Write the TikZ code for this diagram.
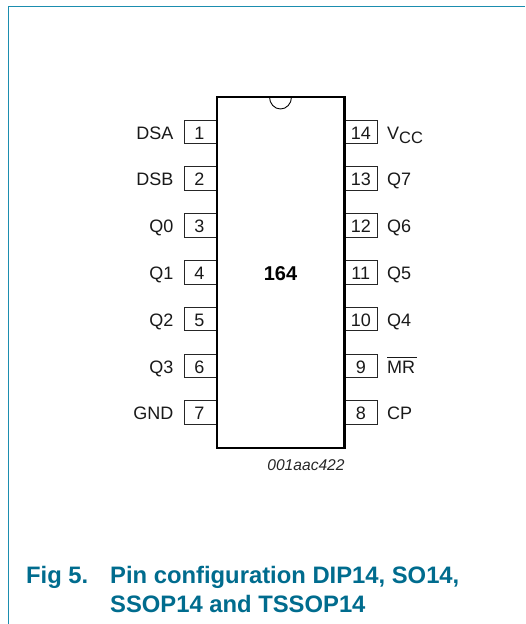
\documentclass[tikz,border=0pt]{standalone}
\usepackage{fontspec}
\setmainfont{Liberation Sans}
\definecolor{framec}{HTML}{1B8DAF}
\definecolor{titlec}{HTML}{006C8E}
\tikzset{
  x=1pt,y=-1pt,
  chip/.style={draw=black,line width=2.2pt,fill=white,minimum width=127.5pt,minimum height=351pt,inner sep=0pt},
  pinbox/.style={draw=black!85,line width=0.9pt,fill=white,minimum width=32.5pt,minimum height=23.5pt,inner sep=0pt},
  pinnum/.style={inner sep=0pt,anchor=base,font=\fontsize{18}{18}\selectfont,text=black!90},
  pinlabel/.style={inner sep=0pt,font=\fontsize{18}{18}\selectfont,text=black!90},
  caption/.style={inner sep=0pt,anchor=base west,text=titlec,font=\fontsize{23.8}{23.8}\selectfont\bfseries},
}
\begin{document}
\begin{tikzpicture}
\useasboundingbox (0,0) rectangle (525,624);
\fill[white] (0,0) rectangle (525,624);
\coordinate (ftop) at (525,6.5);
\coordinate (fcorner) at (8.5,6.5);
\coordinate (fbottom) at (8.5,624);
\draw[framec,line width=1.1pt] (ftop) -- (fcorner) -- (fbottom);
% pins left
\foreach \n/\l [count=\i from 0] in {1/DSA,2/DSB,3/Q0,4/Q1,5/Q2,6/Q3,7/GND}{
  \pgfmathsetmacro{\yy}{131.8+46.8*\i}
  \pgfmathsetmacro{\yb}{\yy+7.2}
  \node[pinbox] (p\n) at (200.7,\yy) {};
  \node[pinnum] (n\n) at (199.4,\yb) {\n};
  \node[pinlabel,anchor=base east] (l\n) at (173.5,\yb) {\l};
}
% pins right
\foreach \n/\l [count=\i from 0] in {14/{V\raisebox{-4pt}{\fontsize{16.5}{16.5}\selectfont CC}},13/Q7,12/Q6,11/Q5,10/Q4,9/{\rlap{\rule[15.5pt]{30pt}{0.7pt}}MR},8/CP}{
  \pgfmathsetmacro{\yy}{131.8+46.8*\i}
  \pgfmathsetmacro{\yb}{\yy+7.2}
  \node[pinbox] (p\n) at (361,\yy) {};
  \node[pinnum] (n\n) at (360.8,\yb) {\n};
  \node[pinlabel,anchor=base west] (l\n) at (387,\yb) {\l};
}
\node[chip] (chip) at (280.8,272.5) {};
\coordinate (nl) at (269.5,97);
\draw[black,line width=0.9pt] (nl) arc[start angle=180,end angle=360,x radius=11pt,y radius=12pt];
\node[inner sep=0pt,anchor=base,font=\fontsize{20}{20}\selectfont\bfseries] (ic) at (280.5,280.5) {164};
\node[inner sep=0pt,anchor=base,font=\fontsize{15.6}{15.6}\selectfont\itshape,text=black!85] (code) at (306,470) {001aac422};
\node[caption] (f1) at (26,583) {Fig 5.};
\node[caption] (t1) at (110,583) {Pin configuration DIP14, SO14,};
\node[caption] (t2) at (110,612) {SSOP14 and TSSOP14};
\end{tikzpicture}
\end{document}
